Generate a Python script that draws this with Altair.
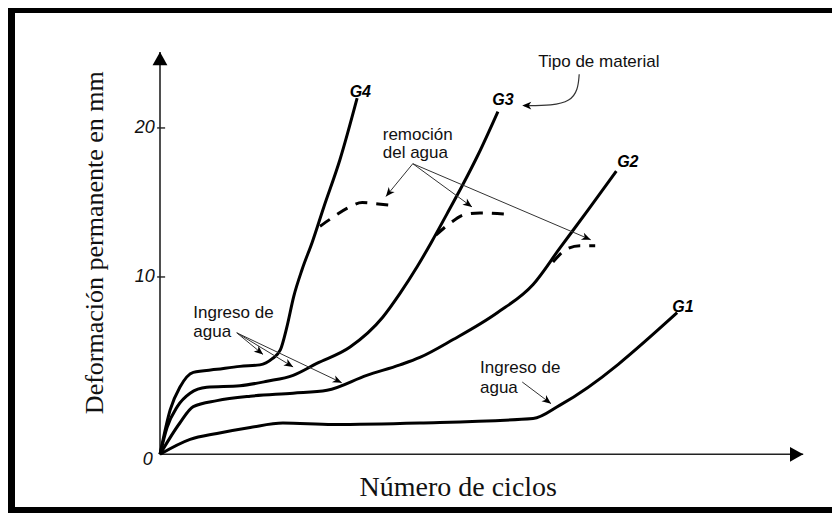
import math
import altair as alt
import pandas as pd

# ---------------- data (x: número de ciclos, unidades arbitrarias; y: deformación en mm) -------------
g4_x = [0, 1.6, 3.1, 5.2, 8.9, 12.5, 15.6, 17.5, 18.8, 19.8, 20.9, 22.2, 23.8, 25.6, 28.1, 30.8]
g4_y = [-1.9, 1.1, 2.6, 3.6, 3.8, 4.0, 4.1, 4.5, 5.1, 6.6, 8.7, 10.5, 12.35, 14.7, 17.85, 22.0]

g3_x = [0, 1.1, 2.7, 4.7, 7.3, 12.5, 16.7, 20.8, 24.5, 29.7, 34.8, 37.5, 40.2, 42.5, 44.8, 47.2, 49.7, 52.8]
g3_y = [-1.9, -0.1, 1.3, 2.2, 2.6, 2.7, 3.0, 3.4, 4.2, 5.3, 7.3, 8.9, 10.7, 12.4, 14.2, 16.1, 18.2, 21.1]

g2_x = [0, 3.1, 5.2, 8.9, 14.1, 20.8, 26.1, 32.3, 37.5, 40.6, 45.8, 52.7, 58.3, 62.5, 66.9, 71.3]
g2_y = [-1.9, 0.2, 1.3, 1.7, 2.0, 2.2, 2.4, 3.4, 4.1, 4.6, 5.8, 7.6, 9.5, 11.95, 14.5, 17.1]

g1_x = [0, 4.7, 8.9, 14.1, 19.2, 27.0, 40.6, 58.3, 62.5, 80.8]
g1_y = [-1.9, -0.9, -0.5, -0.1, 0.2, 0.1, 0.2, 0.5, 1.4, 7.6]

# remoción del agua (dashed)
d4_x = [25.0, 27.0, 29.2, 31.6, 34.1, 36.4]
d4_y = [13.4, 14.0, 14.6, 15.0, 14.9, 14.8]
d3_x = [43.1, 45.3, 47.7, 50.0, 54.4]
d3_y = [12.8, 13.6, 14.2, 14.3, 14.2]
d2_x = [61.4, 63.3, 65.6, 68.0]
d2_y = [11.0, 11.8, 12.1, 12.1]

# curve labels
glab_text = ["G4", "G3", "G2", "G1"]
glab_x = [31.3, 53.6, 73.1, 81.7]
glab_y = [22.4, 21.9, 17.7, 8.0]

# annotation texts
ann_text = ["Tipo de material", "remoción", "del agua", "Ingreso de", "agua", "Ingreso de", "agua"]
ann_x = [59.1, 34.8, 34.8, 5.2, 5.2, 50.0, 50.0]
ann_y = [24.4, 19.5, 18.3, 7.6, 6.3, 3.9, 2.55]

# straight annotation arrows (start -> tip)
arr_x1 = [39.5, 39.5, 39.5, 12.0, 12.0, 12.0, 56.6]
arr_y1 = [17.6, 17.6, 17.6, 6.25, 6.25, 6.25, 2.95]
arr_x2 = [35.3, 48.75, 67.3, 16.1, 20.8, 28.4, 61.1]
arr_y2 = [15.4, 14.7, 12.5, 4.8, 3.96, 2.9, 1.5]

# curved arrow "Tipo de material" -> G3
tipo_x = [65.5, 65.3, 64.1, 61.3, 56.9]
tipo_y = [23.6, 22.55, 21.8, 21.5, 21.5]

# axes
Y0 = -1.9          # origin level
X_TIP = 100.5      # end of x axis arrow
Y_TIP = 25.1       # end of y axis arrow
tick_vals = [10, 20]
tick_labels = ["10", "20"]

# ---------------- layout ----------------
W, H = 824, 505
X_DOMAIN = [-23.75, 105.0]
Y_DOMAIN = [-5.84, 28.05]
KX = W / (X_DOMAIN[1] - X_DOMAIN[0])
KY = H / (Y_DOMAIN[1] - Y_DOMAIN[0])

xs = alt.Scale(domain=X_DOMAIN, nice=False, zero=False)
ys = alt.Scale(domain=Y_DOMAIN, nice=False, zero=False)
SANS = "Liberation Sans"
SERIF = "Liberation Serif"


def X(f="x"):
    return alt.X(f + ":Q", scale=xs, axis=None)


def Y(f="y"):
    return alt.Y(f + ":Q", scale=ys, axis=None)


def curve_df(series):
    rows = []
    for name, cx, cy in series:
        for i, (a, b) in enumerate(zip(cx, cy)):
            rows.append({"serie": name, "x": a, "y": b, "i": i})
    return pd.DataFrame(rows)


solid_df = curve_df([("G4", g4_x, g4_y), ("G3", g3_x, g3_y), ("G2", g2_x, g2_y), ("G1", g1_x, g1_y)])
dash_df = curve_df([("D4", d4_x, d4_y), ("D3", d3_x, d3_y), ("D2", d2_x, d2_y)])
tipo_df = curve_df([("T", tipo_x, tipo_y)])

solid = alt.Chart(solid_df).mark_line(color="black", strokeWidth=3, interpolate="monotone").encode(
    x=X(), y=Y(), detail="serie:N", order="i:Q")
dashed = alt.Chart(dash_df).mark_line(color="black", strokeWidth=3, strokeDash=[12, 9],
                                      interpolate="monotone").encode(
    x=X(), y=Y(), detail="serie:N", order="i:Q")
tipo = alt.Chart(tipo_df).mark_line(color="#333", strokeWidth=1.2, interpolate="basis").encode(
    x=X(), y=Y(), order="i:Q")


def angle(x1, y1, x2, y2):
    dx = (x2 - x1) * KX
    dy = -(y2 - y1) * KY
    return math.degrees(math.atan2(dx, -dy)) % 360


arr_df = pd.DataFrame({"x": arr_x1, "y": arr_y1, "x2": arr_x2, "y2": arr_y2})
arr_df["ang"] = [angle(a, b, c, d) for a, b, c, d in zip(arr_x1, arr_y1, arr_x2, arr_y2)]
head_df = pd.DataFrame({"x": arr_x2 + [tipo_x[-1] - 0.3],
                        "y": arr_y2 + [tipo_y[-1]],
                        "ang": list(arr_df["ang"]) + [270.0]})

arr_lines = alt.Chart(arr_df).mark_rule(color="#333", strokeWidth=1).encode(
    x=X(), y=Y(), x2="x2:Q", y2="y2:Q")
BARB = "M0,0L-0.42,1L0,0.72L0.42,1Z"
arr_heads = alt.Chart(head_df).mark_point(shape=BARB, filled=True, color="black", size=330,
                                          opacity=1, strokeWidth=0).encode(
    x=X(), y=Y(), angle=alt.Angle("ang:Q", scale=None))

# axes
axis_df = pd.DataFrame({"x": [0, 0], "y": [Y0, Y0], "x2": [0, X_TIP], "y2": [Y_TIP, Y0]})
axes = alt.Chart(axis_df).mark_rule(color="#222", strokeWidth=1.6).encode(
    x=X(), y=Y(), x2="x2:Q", y2="y2:Q")
axhead_df = pd.DataFrame({"x": [0, X_TIP], "y": [Y_TIP, Y0], "ang": [0.0, 90.0]})
TRI = "M0,0L-0.56,1L0.56,1Z"
axheads = alt.Chart(axhead_df).mark_point(shape=TRI, filled=True, color="black", size=700,
                                          opacity=1, strokeWidth=0).encode(
    x=X(), y=Y(), angle=alt.Angle("ang:Q", scale=None))

tick_df = pd.DataFrame({"y": tick_vals, "lab": tick_labels})
ticks = alt.Chart(tick_df).mark_rule(color="#222", strokeWidth=1.4).encode(
    x=alt.X("a:Q", scale=xs, axis=None), x2="b:Q", y=Y()).transform_calculate(a="-0.45", b="0.8")
tick_text = alt.Chart(tick_df).mark_text(font=SANS, fontSize=18, fontStyle="italic", align="right",
                                         baseline="middle", color="#111").encode(
    x=alt.X("a:Q", scale=xs, axis=None), y=Y(), text="lab:N").transform_calculate(a="-0.8")
zero_df = pd.DataFrame({"x": [-1.9], "y": [Y0 - 0.4], "t": ["0"]})
zero_text = alt.Chart(zero_df).mark_text(font=SANS, fontSize=18, fontStyle="italic", align="center",
                                         baseline="middle", color="#111").encode(
    x=X(), y=Y(), text="t:N")

# labels
glab_df = pd.DataFrame({"x": glab_x, "y": glab_y, "t": glab_text})
glabs = alt.Chart(glab_df).mark_text(font=SANS, fontSize=16, fontStyle="italic", fontWeight="bold",
                                     align="center", baseline="middle", color="black").encode(
    x=X(), y=Y(), text="t:N")
ann_df = pd.DataFrame({"x": ann_x, "y": ann_y, "t": ann_text})
anns = alt.Chart(ann_df).mark_text(font=SANS, fontSize=17, align="left", baseline="middle",
                                   color="#111").encode(x=X(), y=Y(), text="t:N")

# axis titles
title_df = pd.DataFrame({"x": [46.6, -10.2], "y": [-4.15, 12.3],
                         "t": ["Número de ciclos", "Deformación permanente en mm"],
                         "ang": [0.0, 270.0], "fs": [28, 26]})
titles = alt.Chart(title_df).mark_text(font=SERIF, align="center", baseline="middle",
                                       color="#111").encode(
    x=X(), y=Y(), text="t:N", angle=alt.Angle("ang:Q", scale=None),
    size=alt.Size("fs:Q", scale=None, legend=None))

# frame
one = pd.DataFrame({"k": [0]})
frame_left = alt.Chart(one).mark_rect(color="black").encode(
    x=alt.value(0), x2=alt.value(7), y=alt.value(0), y2=alt.value(H))
frame_top = alt.Chart(one).mark_rect(color="black").encode(
    x=alt.value(0), x2=alt.value(W), y=alt.value(0), y2=alt.value(5))
frame_bottom = alt.Chart(one).mark_rect(color="black").encode(
    x=alt.value(0), x2=alt.value(W), y=alt.value(H - 6), y2=alt.value(H))

chart = alt.layer(
    frame_left, frame_top, frame_bottom,
    axes, axheads, ticks, tick_text, zero_text,
    dashed, solid, tipo, arr_lines, arr_heads,
    glabs, anns, titles,
).properties(
    width=W, height=H,
    autosize=alt.AutoSizeParams(type="none"),
    padding=0,
    background="white",
).configure_view(strokeWidth=0)

chart.save("out.html", embed_options={"renderer": "svg", "actions": False})
